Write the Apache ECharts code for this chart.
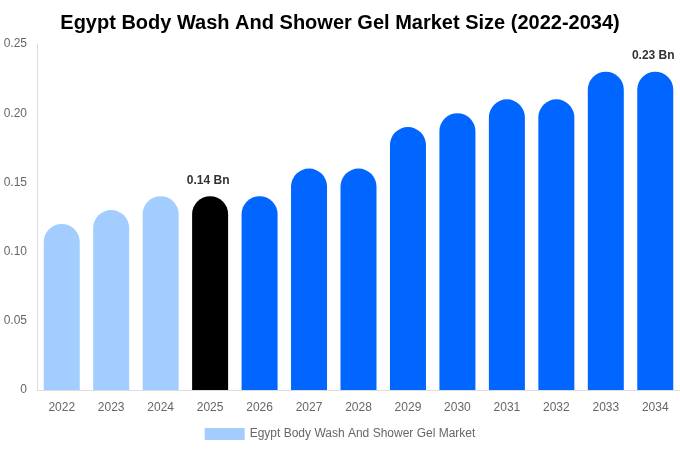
<!DOCTYPE html>
<html><head><meta charset="utf-8">
<script src="https://cdn.jsdelivr.net/npm/echarts@6/dist/echarts.min.js"></script>
<style>html,body{margin:0;padding:0;background:#fff}#c{width:680px;height:450px}</style>
</head><body><div id="c"></div>
<script>
const categories = ['2022','2023','2024','2025','2026','2027','2028','2029','2030','2031','2032','2033','2034'];
const values = [0.12,0.13,0.14,0.14,0.14,0.16,0.16,0.19,0.20,0.21,0.21,0.23,0.23];
const colors = ['#a2cdfe','#a2cdfe','#a2cdfe','#000000','#0066ff','#0066ff','#0066ff','#0066ff','#0066ff','#0066ff','#0066ff','#0066ff','#0066ff'];
const labelled = {'2025':'0.14 Bn','2034':'0.23 Bn'};
const seriesName = 'Egypt Body Wash And Shower Gel Market';

const chart = echarts.init(document.getElementById('c'));
chart.setOption({
  animation:false,
  title:{text:'Egypt Body Wash And Shower Gel Market Size (2022-2034)',left:'center',top:8,
    textStyle:{fontFamily:'Liberation Sans, Arial',fontSize:20,fontWeight:'bold',color:'#000'}},
  legend:{bottom:5,left:'center',itemWidth:40,itemHeight:12,icon:'rect',
    textStyle:{fontFamily:'Liberation Sans, Arial',fontSize:12,color:'#666'},
    data:[{name:seriesName,itemStyle:{color:'#a2cdfe'}}]},
  grid:{left:37,right:0,top:44,bottom:60,containLabel:false},
  xAxis:{type:'category',data:categories,
    axisLine:{show:true,lineStyle:{color:'#ddd'}},axisTick:{show:false},
    axisLabel:{color:'#666',fontSize:12,fontFamily:'Liberation Sans, Arial',margin:12}},
  yAxis:{type:'value',min:0,max:0.25,interval:0.05,
    axisLine:{show:true,lineStyle:{color:'#ddd'}},splitLine:{show:false},
    axisLabel:{color:'#666',fontSize:12,fontFamily:'Liberation Sans, Arial',margin:10,
      formatter:v=>v===0?'0':v.toFixed(2)}},
  series:[{name:seriesName,type:'bar',barWidth:36,
    data:values.map((v,i)=>({value:v,itemStyle:{color:colors[i]},
      label:{show:!!labelled[categories[i]],formatter:labelled[categories[i]]||''}})),
    itemStyle:{borderRadius:[18,18,0,0]},
    label:{position:'top',distance:10,offset:[-2,0],color:'#333',fontWeight:'bold',fontSize:12,fontFamily:'Liberation Sans, Arial'}}]
});
</script></body></html>
